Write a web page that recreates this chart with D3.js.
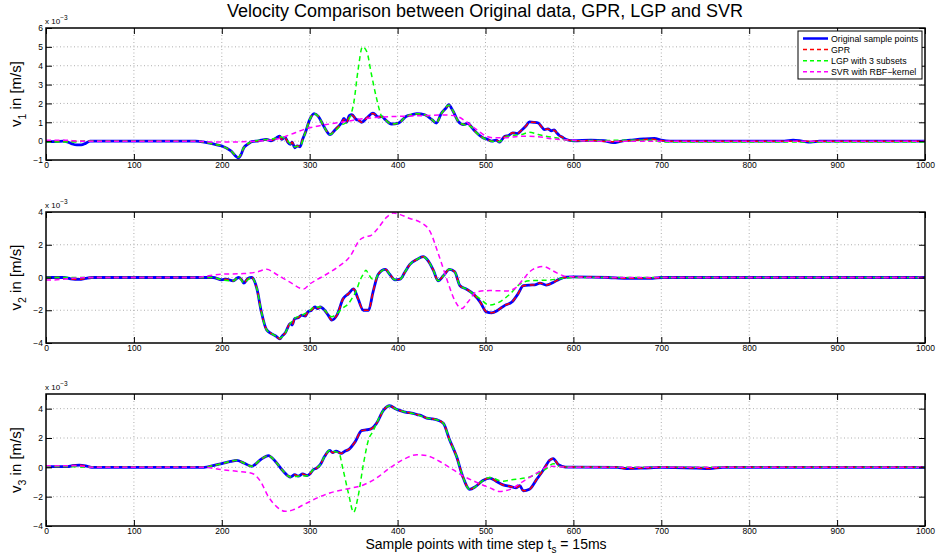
<!DOCTYPE html>
<html><head><meta charset="utf-8">
<script src="https://cdn.jsdelivr.net/npm/d3@7"></script>
<style>
body{margin:0;background:#fff;}
svg text{font-family:"Liberation Sans",Arial,sans-serif;}
</style></head>
<body><svg id="c" width="936" height="560"></svg>
<script>
// ---------- DATA (values in 1e-3 m/s) ----------
const xTicks = [0,100,200,300,400,500,600,700,800,900,1000];
const v1Ticks = [-1,0,1,2,3,4,5,6];
const v2Ticks = [-4,-2,0,2,4];
const v3Ticks = [-4,-2,0,2,4];
const seriesNames = ["Original sample points","GPR","LGP with 3 subsets","SVR with RBF\u2212kernel"];

const v1Orig = [[0,-0.03],[10,-0.03],[20,0],[25,-0.05],[30,-0.15],[35,-0.2],[40,-0.2],[45,-0.12],[50,0],[60,0],[170,0],[180,-0.05],[190,-0.15],[200,-0.26],[210,-0.5],[219,-0.88],[222,-0.7],[225,-0.35],[230,-0.15],[234,-0.03],[242,0.02],[251,0.09],[256,0.02],[262,0.17],[266,0.26],[268,0.1],[272,0.2],[275,-0.05],[278,-0.17],[280,-0.05],[283,-0.35],[286,-0.25],[289,-0.3],[292,0.1],[295,0.44],[300,1.14],[305,1.46],[310,1.3],[315,0.88],[319,0.55],[323,0.35],[329,0.61],[336,0.96],[339,1.2],[342,1.0],[345,1.35],[348,1.4],[353,1.15],[356,1.1],[359,1.0],[365,1.23],[372,1.49],[378,1.28],[382,1.3],[386,1.14],[393,0.91],[401,0.96],[410,1.32],[416,1.4],[422,1.46],[431,1.4],[439,1.14],[444,0.96],[450,1.49],[455,1.75],[458,1.93],[463,1.6],[469,1.05],[475,0.88],[480,0.95],[484,0.75],[488,0.53],[497,0.18],[502,0.1],[507,0],[512,0.05],[516,-0.05],[522,0.26],[526,0.3],[531,0.44],[536,0.4],[541,0.58],[546,0.8],[550,1.02],[555,1.0],[560,0.96],[564,0.75],[567,0.61],[571,0.65],[575,0.55],[578,0.6],[581,0.44],[584,0.3],[587,0.22],[592,0.09],[600,0.02],[620,0.05],[635,0.02],[645,-0.08],[655,0],[665,0.05],[680,0.12],[692,0.15],[700,0.05],[710,0],[840,0],[850,0.05],[860,0],[870,-0.05],[880,0],[1000,0]];
const v1GPR = [[0,0],[20,0],[50,0],[60,0],[170,0],[180,-0.05],[190,-0.15],[200,-0.26],[210,-0.5],[219,-0.85],[222,-0.7],[225,-0.35],[230,-0.15],[234,-0.03],[242,0.02],[251,0.09],[256,0.02],[262,0.17],[266,0.24],[268,0.1],[272,0.18],[275,-0.05],[278,-0.17],[280,-0.05],[283,-0.33],[286,-0.25],[289,-0.28],[292,0.1],[295,0.44],[300,1.14],[305,1.45],[310,1.3],[315,0.88],[319,0.55],[323,0.35],[329,0.61],[336,0.96],[339,1.15],[342,1.0],[345,1.3],[348,1.38],[353,1.15],[356,1.1],[359,1.0],[365,1.23],[372,1.47],[378,1.28],[382,1.3],[386,1.14],[393,0.91],[401,0.96],[410,1.32],[416,1.4],[422,1.45],[431,1.4],[439,1.14],[444,0.96],[450,1.47],[455,1.75],[458,1.9],[463,1.6],[469,1.05],[475,0.88],[480,0.93],[484,0.75],[488,0.53],[497,0.18],[502,0.1],[507,0],[512,0.05],[516,-0.03],[522,0.25],[526,0.3],[531,0.44],[536,0.4],[541,0.58],[546,0.8],[550,1.0],[555,1.0],[560,0.95],[564,0.75],[567,0.61],[571,0.65],[575,0.55],[578,0.58],[581,0.44],[584,0.3],[587,0.22],[592,0.09],[600,0.02],[620,0.03],[645,-0.03],[665,0.03],[690,0.1],[700,0.03],[710,0],[1000,0]];
const v1LGP = [[0,-0.05],[30,-0.05],[50,0],[170,0],[180,-0.05],[190,-0.15],[200,-0.26],[210,-0.5],[219,-0.85],[225,-0.35],[234,-0.03],[251,0.09],[262,0.15],[266,0.22],[272,0.15],[278,-0.15],[283,-0.3],[289,-0.25],[295,0.44],[300,1.14],[305,1.45],[310,1.3],[315,0.88],[323,0.35],[329,0.55],[336,0.85],[342,1.0],[350,2.0],[355,3.77],[360,5.0],[365,4.74],[370,3.6],[376,2.28],[382,1.3],[386,1.14],[393,0.91],[401,0.96],[410,1.32],[422,1.45],[431,1.4],[439,1.14],[444,0.96],[450,1.47],[458,1.9],[463,1.6],[469,1.05],[475,0.88],[484,0.75],[488,0.53],[497,0.18],[507,0],[516,-0.03],[522,0.2],[531,0.3],[541,0.35],[550,0.47],[560,0.35],[570,0.25],[580,0.18],[590,0.08],[600,0.02],[620,0.03],[690,0.05],[700,-0.05],[1000,-0.05]];
const v1SVR = [[0,0.05],[20,0.05],[40,0],[170,0],[190,-0.05],[200,-0.05],[240,0],[262,0.1],[278,0.35],[293,0.61],[308,0.79],[323,0.91],[342,1.05],[361,1.19],[384,1.28],[406,1.32],[429,1.35],[452,1.39],[467,1.32],[480,0.96],[490,0.61],[501,0.26],[510,0.18],[520,0.18],[543,0.26],[558,0.24],[577,0.12],[600,0.05],[620,0],[1000,0]];

const v2Orig = [[0,0],[20,0],[28,-0.08],[38,-0.12],[45,-0.05],[52,0],[190,0],[200,-0.14],[205,-0.1],[213,-0.2],[219,0],[222,-0.1],[225,-0.34],[230,-0.05],[234,0],[237,-0.2],[240,-0.7],[245,-2.1],[251,-3.2],[259,-3.5],[262,-3.6],[266,-3.75],[269,-3.55],[272,-3.4],[278,-2.8],[280,-2.9],[283,-2.5],[287,-2.45],[291,-2.3],[295,-2.35],[298,-2.1],[302,-2.0],[306,-1.8],[309,-1.9],[312,-1.8],[317,-2.0],[321,-2.3],[325,-2.6],[331,-2.3],[338,-1.3],[344,-1.0],[350,-0.7],[355,-1.3],[361,-2.0],[367,-2.0],[372,-0.9],[378,0.2],[386,0.5],[391,0.2],[397,-0.14],[403,-0.1],[408,0.3],[414,0.8],[422,1.1],[429,1.27],[435,1.0],[441,0.4],[446,-0.2],[452,0.1],[459,0.5],[465,0.35],[471,-0.5],[478,-0.7],[486,-1.0],[494,-1.5],[501,-2.1],[507,-2.16],[514,-2.0],[522,-1.7],[530,-1.5],[537,-1.0],[543,-0.5],[550,-0.46],[556,-0.45],[562,-0.34],[569,-0.46],[577,-0.3],[584,-0.1],[592,0.02],[600,0.04],[640,0],[660,-0.05],[690,-0.05],[700,0],[1000,0]];
const v2GPR = v2Orig;
const v2LGP = [[0,0],[20,0],[52,0],[190,0],[200,-0.14],[213,-0.2],[219,0],[225,-0.3],[234,0],[240,-0.7],[245,-2.1],[251,-3.2],[259,-3.5],[266,-3.7],[272,-3.4],[278,-2.8],[283,-2.5],[291,-2.3],[298,-2.1],[306,-1.8],[312,-1.8],[317,-2.0],[325,-2.4],[331,-2.2],[338,-1.85],[344,-1.6],[349,-1.2],[353,-0.8],[357,-0.2],[361,0.2],[364,0.45],[367,0.2],[370,-0.05],[374,-0.15],[378,0.2],[386,0.5],[391,0.2],[397,-0.14],[403,-0.1],[408,0.3],[414,0.8],[422,1.1],[429,1.27],[435,1.0],[441,0.4],[446,-0.2],[452,0.1],[459,0.5],[465,0.35],[471,-0.5],[478,-0.7],[486,-1.0],[494,-1.3],[504,-1.68],[514,-1.55],[528,-1.0],[539,-0.4],[550,-0.2],[573,-0.15],[589,-0.05],[600,0],[1000,0]];
const v2SVR = [[0,-0.15],[10,-0.15],[20,-0.1],[30,-0.05],[45,0],[170,0],[185,0.1],[200,0.2],[225,0.24],[240,0.34],[251,0.5],[262,0.2],[278,-0.3],[293,-0.7],[300,-0.4],[316,0.1],[331,0.6],[346,1.3],[357,2.3],[364,2.5],[369,2.55],[376,2.9],[388,3.7],[395,3.94],[403,3.84],[414,3.6],[425,3.4],[437,2.8],[446,1.5],[456,-0.1],[465,-1.4],[473,-1.9],[480,-1.5],[490,-0.87],[505,-0.8],[524,-0.82],[535,-0.6],[543,-0.1],[554,0.5],[566,0.67],[577,0.4],[589,0.1],[600,0.04],[620,0],[1000,0]];

const v3Orig = [[0,0.05],[25,0.05],[30,0.12],[38,0.15],[45,0.1],[52,0],[180,0],[190,0.12],[200,0.25],[210,0.4],[217,0.48],[225,0.3],[234,0.07],[244,0.52],[253,0.8],[261,0.4],[270,-0.27],[278,-0.66],[283,-0.5],[287,-0.6],[292,-0.45],[297,-0.57],[301,-0.4],[304,-0.16],[308,-0.05],[312,0.18],[317,0.75],[323,1.16],[326,1.0],[330,1.1],[336,0.95],[340,1.1],[344,1.2],[352,1.77],[359,2.5],[364,2.55],[369,2.6],[376,3.0],[384,3.9],[391,4.2],[398,3.98],[404,3.85],[410,3.75],[416,3.7],[422,3.6],[428,3.5],[433,3.36],[440,3.3],[444,3.25],[452,3.0],[459,1.9],[467,0.75],[474,-0.6],[482,-1.5],[489,-1.3],[497,-0.9],[505,-0.73],[512,-0.95],[520,-1.2],[528,-1.3],[535,-1.4],[539,-1.25],[543,-1.6],[550,-1.5],[558,-0.84],[566,-0.16],[573,0.48],[577,0.6],[583,0.18],[591,0.02],[600,0.02],[650,0],[660,-0.08],[680,-0.05],[700,0],[740,-0.05],[755,-0.08],[770,0],[1000,0]];
const v3GPR = v3Orig;
const v3LGP = [[0,0.05],[25,0.05],[52,0],[180,0],[190,0.12],[200,0.25],[217,0.48],[225,0.3],[234,0.07],[244,0.52],[253,0.8],[261,0.4],[270,-0.27],[278,-0.66],[287,-0.6],[297,-0.57],[304,-0.16],[312,0.18],[317,0.75],[323,1.16],[330,1.05],[333,1.0],[338,-0.16],[344,-1.75],[350,-3.07],[355,-2.0],[361,0.18],[367,1.9],[372,2.45],[376,3.0],[384,3.9],[391,4.2],[398,3.98],[410,3.75],[422,3.6],[433,3.36],[444,3.25],[452,3.0],[459,1.9],[467,0.75],[474,-0.6],[482,-1.5],[489,-1.3],[497,-0.9],[505,-0.7],[520,-0.95],[530,-0.85],[540,-0.77],[550,-0.66],[560,-0.4],[570,-0.05],[577,0.25],[585,0.05],[600,0],[1000,0]];
const v3SVR = [[0,0.1],[20,0.1],[35,0.1],[45,0.05],[55,0],[180,0],[200,-0.16],[217,-0.27],[234,-0.4],[244,-0.95],[253,-2.0],[262,-2.66],[272,-3.0],[281,-2.9],[293,-2.55],[308,-2.1],[323,-1.75],[342,-1.48],[361,-1.2],[376,-0.73],[391,-0.05],[406,0.52],[422,0.86],[433,0.8],[448,0.4],[463,-0.16],[474,-0.57],[489,-1.0],[505,-1.4],[516,-1.64],[528,-1.5],[543,-0.95],[558,-0.4],[573,0.07],[589,0.02],[600,0],[1000,0]];

// ---------- LAYOUT ----------
const svg = d3.select("#c");
const X0 = 46, X1 = 925;
const colors = ["#0000ff","#ff0000","#00ff00","#ff00ff"];
const widths = [2.8,1.5,1.5,1.5];
const dashes = [null,"5,3.5","5,3.5","5,3.5"];
const x = d3.scaleLinear().domain([0,1000]).range([X0,X1]);

const panels = [
  {top:28,bottom:160,dom:[-1,6],ticks:v1Ticks,sub:"1",series:[v1Orig,v1GPR,v1LGP,v1SVR]},
  {top:212,bottom:343,dom:[-4,4],ticks:v2Ticks,sub:"2",series:[v2Orig,v2GPR,v2LGP,v2SVR]},
  {top:394,bottom:526,dom:[-4,5],ticks:v3Ticks,sub:"3",series:[v3Orig,v3GPR,v3LGP,v3SVR]}
];

panels.forEach((p,i)=>{
  const y = d3.scaleLinear().domain(p.dom).range([p.bottom,p.top]);
  const g = svg.append("g");
  g.append("rect").attr("x",X0).attr("y",p.top).attr("width",X1-X0).attr("height",p.bottom-p.top).attr("fill","#fff");
  const gridC = "#9a9a9a";
  xTicks.slice(1,-1).forEach(t=>{
    g.append("line").attr("x1",x(t)).attr("x2",x(t)).attr("y1",p.top).attr("y2",p.bottom)
      .attr("stroke",gridC).attr("stroke-width",0.8).attr("stroke-dasharray","1,2.5");
  });
  p.ticks.forEach(t=>{
    if (t===p.dom[0]||t===p.dom[1]) return;
    g.append("line").attr("x1",X0).attr("x2",X1).attr("y1",y(t)).attr("y2",y(t))
      .attr("stroke",gridC).attr("stroke-width",0.8).attr("stroke-dasharray","1,2.5");
  });
  const cid = "clip"+i;
  svg.append("clipPath").attr("id",cid).append("rect").attr("x",X0).attr("y",p.top).attr("width",X1-X0).attr("height",p.bottom-p.top);
  const line = d3.line().x(d=>x(d[0])).y(d=>y(d[1])).curve(d3.curveMonotoneX);
  p.series.forEach((s,k)=>{
    g.append("path").attr("d",line(s)).attr("fill","none").attr("stroke",colors[k])
      .attr("stroke-width",widths[k]).attr("stroke-dasharray",dashes[k]).attr("clip-path","url(#"+cid+")")
      .attr("stroke-linejoin","round");
  });
  const tl = 6;
  const ax = g.append("g").attr("transform",`translate(0,${p.bottom})`)
    .call(d3.axisBottom(x).tickValues(xTicks).tickSizeInner(-tl).tickSizeOuter(0).tickPadding(2).tickFormat(d3.format("d")));
  const axT = g.append("g").attr("transform",`translate(0,${p.top})`)
    .call(d3.axisTop(x).tickValues(xTicks).tickSizeInner(-tl).tickSizeOuter(0).tickFormat(""));
  const ay = g.append("g").attr("transform",`translate(${X0},0)`)
    .call(d3.axisLeft(y).tickValues(p.ticks).tickSizeInner(-tl).tickSizeOuter(0).tickPadding(3));
  const ayR = g.append("g").attr("transform",`translate(${X1},0)`)
    .call(d3.axisRight(y).tickValues(p.ticks).tickSizeInner(-tl).tickSizeOuter(0).tickFormat(""));
  [ax,axT,ay,ayR].forEach(a=>{
    a.select(".domain").remove();
    a.selectAll(".tick line").attr("stroke","#000").attr("stroke-width",1);
    a.selectAll("text").attr("font-size","8.5px").attr("fill","#000").attr("font-family","Liberation Sans, Arial, sans-serif");
  });
  ay.selectAll("text").text(d=>d<0?"\u2212"+Math.abs(d):d);
  g.append("rect").attr("x",X0).attr("y",p.top).attr("width",X1-X0).attr("height",p.bottom-p.top)
    .attr("fill","none").attr("stroke","#000").attr("stroke-width",1.5);
  const ex = g.append("text").attr("x",X0-1).attr("y",p.top-4).attr("font-size","8px");
  ex.append("tspan").text("x 10");
  ex.append("tspan").attr("dy",-4).attr("font-size","6.5px").text("\u22123");
  const yc = (p.top+p.bottom)/2;
  const yl = g.append("text").attr("transform",`translate(21,${yc}) rotate(-90)`).attr("text-anchor","middle").attr("font-size","15px");
  yl.append("tspan").text("v");
  yl.append("tspan").attr("dy",5).attr("font-size","10.5px").text(p.sub);
  yl.append("tspan").attr("dy",-5).text(" in [m/s]");
});

svg.append("text").attr("x",485).attr("y",17).attr("text-anchor","middle").attr("font-size","18px").text("Velocity Comparison between Original data, GPR, LGP and SVR");
const xl = svg.append("text").attr("x",486).attr("y",549).attr("text-anchor","middle").attr("font-size","14px");
xl.append("tspan").text("Sample points with time step t");
xl.append("tspan").attr("dy",4).attr("font-size","10px").text("s");
xl.append("tspan").attr("dy",-4).text(" = 15ms");

const lg = svg.append("g");
lg.append("rect").attr("x",798).attr("y",31).attr("width",124).attr("height",48).attr("fill","#fff").attr("stroke","#000").attr("stroke-width",1);
const rows = [38.5,49.5,60.7,71.7];
seriesNames.forEach((n,k)=>{
  lg.append("line").attr("x1",803).attr("x2",828).attr("y1",rows[k]).attr("y2",rows[k])
    .attr("stroke",colors[k]).attr("stroke-width",k===0?2.5:1.5).attr("stroke-dasharray",k===0?null:"4,3");
  lg.append("text").attr("x",831).attr("y",rows[k]+3).attr("font-size","8.8px").text(n);
});
</script></body></html>
